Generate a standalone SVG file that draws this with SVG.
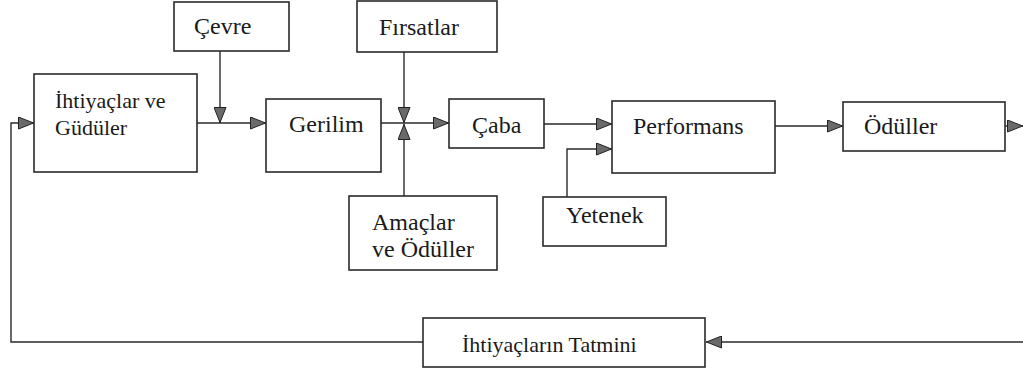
<svg xmlns="http://www.w3.org/2000/svg" width="1023" height="373" viewBox="0 0 1023 373">
<style>
.box{fill:#fff;stroke:#2a2a2a;stroke-width:1.6}
text{font-family:'Liberation Serif','DejaVu Serif',serif;font-size:24px;fill:#1a1a1a}
.s{font-size:22px}
.c{fill:none;stroke:#2a2a2a;stroke-width:1.4}
</style>
<defs>
<marker id="ah" viewBox="0 0 16 13" refX="16" refY="6.5" markerWidth="16" markerHeight="13" markerUnits="userSpaceOnUse" orient="auto">
<path d="M0.5,0.5 L15.5,6.5 L0.5,12.5 z" fill="#6a6a6a" stroke="#222" stroke-width="1"/>
</marker>
</defs>
<rect width="1023" height="373" fill="#fff"/>
<g id="connectors">
<path class="c" d="M197,123 H266" marker-end="url(#ah)"/>
<path class="c" d="M220,51 V123" marker-end="url(#ah)"/>
<path class="c" d="M381,123 H449" marker-end="url(#ah)"/>
<path class="c" d="M404,52 V123" marker-end="url(#ah)"/>
<path class="c" d="M404,196 V124" marker-end="url(#ah)"/>
<path class="c" d="M544,124 H612" marker-end="url(#ah)"/>
<path class="c" d="M567,197 V149 H612" marker-end="url(#ah)"/>
<path class="c" d="M775,126 H843" marker-end="url(#ah)"/>
<path class="c" d="M1005,126 H1023" marker-end="url(#ah)"/>
<path class="c" d="M1023,342 H706" marker-end="url(#ah)"/>
<path class="c" d="M423,342 H11 V123 H34" marker-end="url(#ah)"/>
</g>
<g id="cevre"><rect class="box" x="174" y="2" width="115" height="49"/><text x="194" y="34">Çevre</text></g>
<g id="ihtiyaclar"><rect class="box" x="34" y="74" width="163" height="98"/><text class="s" x="55" y="108">İhtiyaçlar ve</text><text class="s" x="55" y="135">Güdüler</text></g>
<g id="gerilim"><rect class="box" x="266" y="99" width="115" height="73"/><text x="289" y="132">Gerilim</text></g>
<g id="firsatlar"><rect class="box" x="357" y="1" width="140" height="51"/><text x="379" y="35">Fırsatlar</text></g>
<g id="caba"><rect class="box" x="449" y="99" width="95" height="49"/><text x="472" y="133">Çaba</text></g>
<g id="performans"><rect class="box" x="612" y="101" width="163" height="72"/><text x="633" y="134">Performans</text></g>
<g id="oduller"><rect class="box" x="843" y="102" width="162" height="49"/><text x="864" y="134">Ödüller</text></g>
<g id="amaclar"><rect class="box" x="349" y="196" width="148" height="74"/><text x="372" y="230">Amaçlar</text><text x="372" y="257">ve Ödüller</text></g>
<g id="yetenek"><rect class="box" x="543" y="197" width="123" height="49"/><text x="566" y="223">Yetenek</text></g>
<g id="tatmini"><rect class="box" x="423" y="318" width="282" height="49"/><text class="s" x="462" y="352">İhtiyaçların Tatmini</text></g>
</svg>
